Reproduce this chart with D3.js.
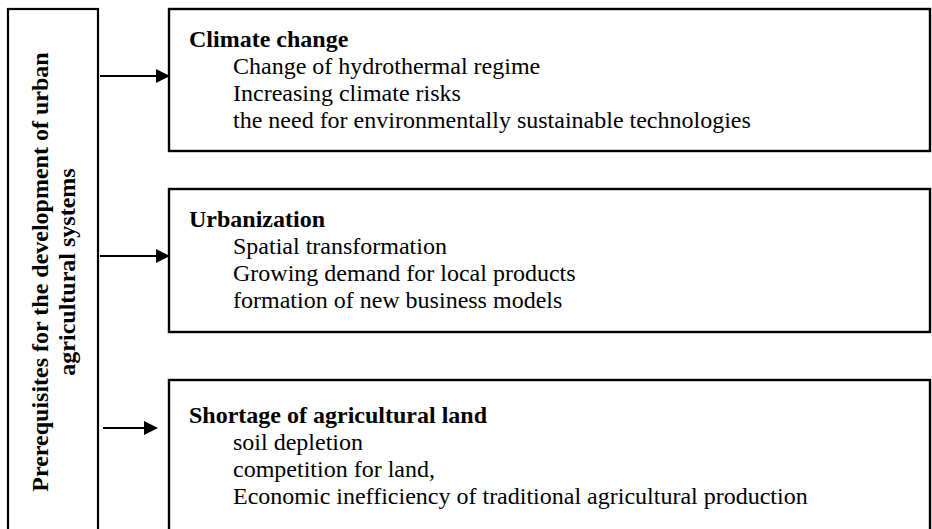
<!DOCTYPE html>
<html><head><meta charset="utf-8">
<script src="https://cdn.jsdelivr.net/npm/d3@7/dist/d3.min.js"></script>
<style>html,body{margin:0;padding:0;background:#fff;}svg{display:block;}</style>
</head><body>
<script>
const sideTitle = ["Prerequisites for the development of urban", "agricultural systems"];
const categories = ["Climate change", "Urbanization", "Shortage of agricultural land"];
const items = [
  ["Change of hydrothermal regime", "Increasing climate risks", "the need for environmentally sustainable technologies"],
  ["Spatial transformation", "Growing demand for local products", "formation of new business models"],
  ["soil depletion", "competition for land,", "Economic inefficiency of traditional agricultural production"]
];

const W = 932, H = 529;
const svg = d3.select("body").append("svg").attr("width", W).attr("height", H);
const FONT = "'Liberation Serif', 'Times New Roman', serif";

const boxes = [
  {y0: 9, y1: 151, arrowY: 76, ax0: 100, ax1: 170},
  {y0: 189, y1: 332, arrowY: 256, ax0: 100, ax1: 170},
  {y0: 380, y1: 540, arrowY: 428, ax0: 103, ax1: 158}
];

// left box
svg.append("rect").attr("x", 8).attr("y", 9).attr("width", 90).attr("height", 540)
  .attr("fill", "none").attr("stroke", "#000").attr("stroke-width", 2.2);

const st = svg.append("text")
  .attr("transform", "translate(48,272) rotate(-90)")
  .attr("text-anchor", "middle")
  .attr("font-family", FONT)
  .attr("font-weight", "bold").attr("font-size", 24).attr("fill", "#000");
st.selectAll("tspan").data(sideTitle).join("tspan")
  .attr("x", 0).attr("dy", (d, i) => i === 0 ? 0 : 27).text(d => d);

const g = svg.selectAll("g.cat").data(categories).join("g").attr("class", "cat");

g.append("rect")
  .attr("x", 169).attr("y", (d, i) => boxes[i].y0)
  .attr("width", 761).attr("height", (d, i) => boxes[i].y1 - boxes[i].y0)
  .attr("fill", "none").attr("stroke", "#000").attr("stroke-width", 2.4);

g.append("line")
  .attr("x1", (d, i) => boxes[i].ax0).attr("x2", (d, i) => boxes[i].ax1 - 12)
  .attr("y1", (d, i) => boxes[i].arrowY).attr("y2", (d, i) => boxes[i].arrowY)
  .attr("stroke", "#000").attr("stroke-width", 2);

g.append("path")
  .attr("d", (d, i) => {
    const b = boxes[i];
    return `M${b.ax1},${b.arrowY} L${b.ax1 - 14},${b.arrowY - 7} L${b.ax1 - 14},${b.arrowY + 7} Z`;
  }).attr("fill", "#000");

const tbase = [47, 227, 423];
g.append("text")
  .attr("x", 189).attr("y", (d, i) => tbase[i])
  .attr("font-family", FONT)
  .attr("font-weight", "bold").attr("font-size", 24).attr("fill", "#000")
  .text(d => d);

g.each(function(d, i) {
  d3.select(this).selectAll("text.item").data(items[i]).join("text")
    .attr("class", "item")
    .attr("x", 233).attr("y", (t, j) => tbase[i] + 27 * (j + 1))
    .attr("font-family", FONT)
    .attr("font-size", 24).attr("fill", "#000")
    .text(t => t);
});
</script>
</body></html>
